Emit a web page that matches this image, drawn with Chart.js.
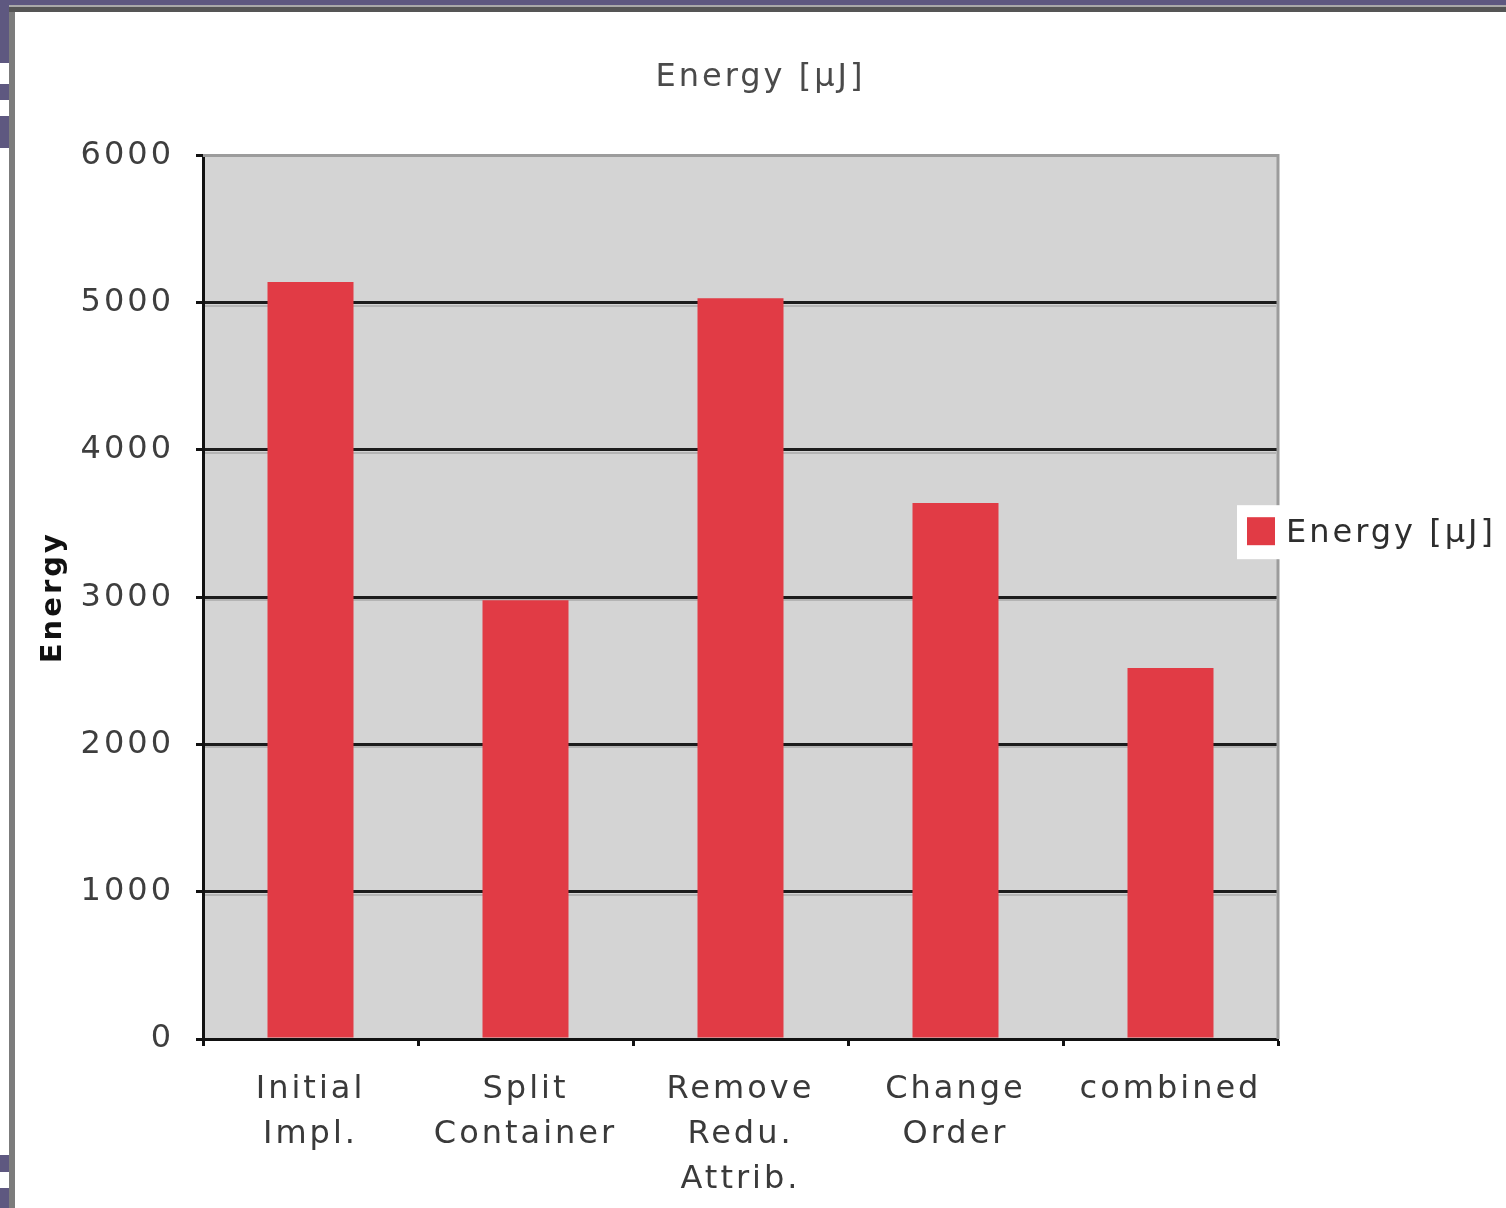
<!DOCTYPE html>
<html>
<head>
<meta charset="utf-8">
<script src="https://cdn.jsdelivr.net/npm/chart.js@4.4.1/dist/chart.umd.min.js"></script>
<style>
  html, body { margin: 0; padding: 0; }
  body { width: 1506px; height: 1208px; background: #5e5880; position: relative; overflow: hidden; }
  .blk { position: absolute; }
  #frame { position: absolute; left: 15px; top: 12px; width: 1491px; height: 1196px; background: #ffffff; }
  canvas { display: block; }
</style>
</head>
<body>
<!-- window frame pieces -->
<div class="blk" style="left:9px;top:5px;width:1497px;height:2px;background:#a9a9a9"></div>
<div class="blk" style="left:9px;top:7px;width:1497px;height:5px;background:#555555"></div>
<div class="blk" style="left:9px;top:12px;width:6px;height:1196px;background:#7c7c7c"></div>
<div class="blk" style="left:0;top:63px;width:9px;height:21px;background:#ffffff"></div>
<div class="blk" style="left:0;top:100px;width:9px;height:16px;background:#ffffff"></div>
<div class="blk" style="left:0;top:148px;width:9px;height:1007px;background:#ffffff"></div>
<div class="blk" style="left:0;top:1172px;width:9px;height:16px;background:#ffffff"></div>
<div id="frame"><canvas id="chart" width="1491" height="1196"></canvas></div>
<script>
// Energy per implementation variant
const categories = [
  ['Initial', 'Impl.'],
  ['Split', 'Container'],
  ['Remove', 'Redu.', 'Attrib.'],
  ['Change', 'Order'],
  'combined'
];
const energyValues = [5140, 2980, 5030, 3640, 2520];
const seriesLabel = 'Energy [\u00b5J]';
const yTicks = [0, 1000, 2000, 3000, 4000, 5000, 6000];

const FONT = 'DejaVu Sans';
const SPACING = '3px';

// Wide tracking on all canvas text
const spacingPlugin = {
  id: 'spacing',
  beforeLayout(chart) { chart.ctx.letterSpacing = SPACING; },
  beforeDraw(chart) { chart.ctx.letterSpacing = SPACING; }
};

// Grey plot background, light grid shadows and top/right border
const plotFrame = {
  id: 'plotFrame',
  beforeDraw(chart) {
    const { ctx, chartArea: a } = chart;
    ctx.save();
    ctx.fillStyle = '#d4d4d4';
    ctx.fillRect(a.left, a.top, a.right - a.left, a.bottom - a.top);
    ctx.restore();
  },
  beforeDatasetsDraw(chart) {
    const { ctx, chartArea: a, scales } = chart;
    const y = scales.y;
    ctx.save();
    ctx.strokeStyle = '#b4b4b4';
    ctx.lineWidth = 2;
    yTicks.forEach(v => {
      if (v === 0 || v === yTicks[yTicks.length - 1]) return;
      const py = Math.round(y.getPixelForValue(v)) + 3;
      ctx.beginPath();
      ctx.moveTo(a.left + 2, py);
      ctx.lineTo(a.right - 2, py);
      ctx.stroke();
    });
    ctx.strokeStyle = '#9c9c9c';
    ctx.lineWidth = 3;
    ctx.beginPath();
    ctx.moveTo(a.left, a.top);
    ctx.lineTo(a.right, a.top);
    ctx.lineTo(a.right, a.bottom);
    ctx.stroke();
    ctx.restore();
  }
};

// Legend box to the right of the plot
const sideLegend = {
  id: 'sideLegend',
  afterDraw(chart) {
    const { ctx } = chart;
    const ds = chart.data.datasets[0];
    const mid = (chart.chartArea.top + chart.chartArea.bottom) / 2 - 64;
    ctx.save();
    ctx.letterSpacing = SPACING;
    ctx.fillStyle = '#ffffff';
    ctx.fillRect(chart.chartArea.right - 41, mid - 28, 300, 54);
    ctx.fillStyle = ds.backgroundColor;
    ctx.fillRect(chart.chartArea.right - 31, mid - 16, 28, 28);
    ctx.fillStyle = '#2e2e2e';
    ctx.font = '32px "' + FONT + '"';
    ctx.textAlign = 'left';
    ctx.textBaseline = 'middle';
    ctx.fillText(ds.label, chart.chartArea.right + 8, mid);
    ctx.restore();
  }
};

new Chart(document.getElementById('chart'), {
  type: 'bar',
  data: {
    labels: categories,
    datasets: [{
      label: seriesLabel,
      data: energyValues,
      backgroundColor: '#e13b45',
      borderWidth: 0,
      barPercentage: 0.4,
      categoryPercentage: 1.0,
      yAxisID: 'y'
    }]
  },
  options: {
    responsive: false,
    devicePixelRatio: 1,
    animation: false,
    layout: { padding: 0 },
    plugins: {
      legend: { display: false },
      tooltip: { enabled: false },
      title: {
        display: true,
        text: seriesLabel,
        color: '#4a4a4a',
        font: { family: FONT, size: 32, weight: 'normal', lineHeight: 1.2 },
        padding: { top: 46, bottom: 59 }
      }
    },
    scales: {
      x: {
        grid: {
          drawOnChartArea: false,
          drawTicks: true,
          tickLength: 7,
          tickWidth: 3,
          tickColor: '#111111',
          offset: true
        },
        border: { display: true, color: '#111111', width: 3 },
        ticks: {
          color: '#3a3a3a',
          font: { family: FONT, size: 32, lineHeight: 1.406 },
          padding: 21,
          maxRotation: 0,
          autoSkip: false
        },
        afterFit(scale) { scale.height = 169; }
      },
      y: {
        min: 0,
        max: 6000,
        grid: {
          color: ctx => (ctx.tick && ctx.tick.value === 6000) ? '#9c9c9c' : '#1c1c1c',
          lineWidth: 3,
          drawTicks: true,
          tickLength: 7,
          tickColor: '#111111',
          tickWidth: 3
        },
        border: { display: true, color: '#111111', width: 3 },
        afterBuildTicks(scale) { scale.ticks = yTicks.map(v => ({ value: v })); },
        ticks: {
          color: '#3e3e3e',
          font: { family: FONT, size: 32 },
          padding: 22,
          callback: v => String(v)
        },
        title: {
          display: true,
          text: 'Energy',
          color: '#111111',
          font: { family: FONT, size: 29, weight: 'bold', lineHeight: 1.2 },
          padding: { top: 21, bottom: 0 }
        },
        afterFit(scale) { scale.width = 188; }
      },
      // empty column on the right that holds the legend
      legendSpace: {
        type: 'linear',
        position: 'right',
        display: true,
        grid: { display: false, drawTicks: false },
        border: { display: false },
        ticks: { display: false },
        title: { display: false },
        afterFit(scale) { scale.width = 228; }
      }
    }
  },
  plugins: [spacingPlugin, plotFrame, sideLegend]
});
</script>
</body>
</html>
